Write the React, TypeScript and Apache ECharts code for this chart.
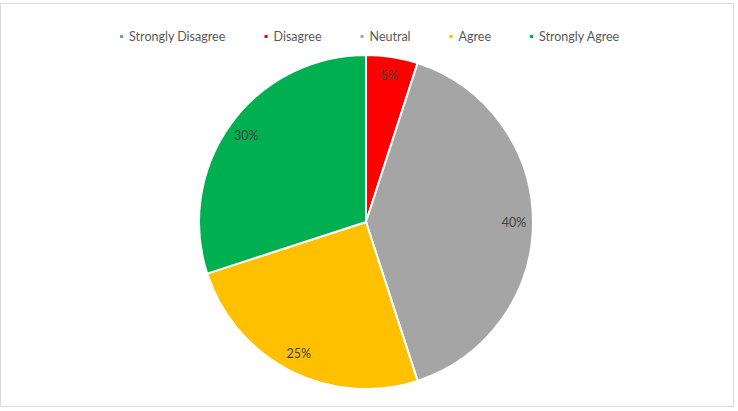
import React, { useEffect, useRef } from "react";
import * as echarts from "echarts";

const categories = ["Strongly Disagree", "Disagree", "Neutral", "Agree", "Strongly Agree"];
const shares = [0, 5, 40, 25, 30];
const colors = ["#5B9BD5", "#FF0000", "#A5A5A5", "#FFC000", "#00B050"];

const FONT = "Lato, 'Open Sans', sans-serif";

export default function App() {
  const ref = useRef<HTMLDivElement>(null);

  useEffect(() => {
    if (!ref.current) return;
    const chart = echarts.init(ref.current, undefined, { renderer: "svg" });

    const slices = categories.map((name, i) => ({
      name,
      value: shares[i],
      itemStyle: { color: colors[i] },
    }));

    chart.setOption({
      animation: false,
      backgroundColor: "#ffffff",
      graphic: [
        {
          type: "rect",
          shape: { x: 0.5, y: 3.5, width: 733, height: 403 },
          style: { fill: "none", stroke: "#d9d9d9", lineWidth: 1 },
          silent: true,
        },
      ],
      legend: {
        data: categories,
        top: 25,
        left: "center",
        icon: "rect",
        itemWidth: 5,
        itemHeight: 5,
        itemGap: 37,
        textStyle: { fontFamily: FONT, fontSize: 12.5, color: "#595959" },
      },
      series: [
        {
          type: "pie",
          center: [366, 222],
          radius: [0, 167],
          startAngle: 90,
          clockwise: true,
          data: slices,
          itemStyle: { borderColor: "#ffffff", borderWidth: 2 },
          label: { show: false },
          labelLine: { show: false },
          silent: true,
        },
        {
          // transparent ring that carries the percentage labels near the rim
          type: "pie",
          center: [366, 222],
          radius: [124, 166],
          startAngle: 90,
          clockwise: true,
          silent: true,
          data: categories.map((name, i) => ({
            name,
            value: shares[i],
            itemStyle: { color: "rgba(0,0,0,0)" },
            label: { show: shares[i] > 0 },
          })),
          label: {
            position: "inside",
            formatter: (p: any) => `${p.value}%`,
            fontFamily: FONT,
            fontSize: 12.5,
            color: "#404040",
          },
          labelLine: { show: false },
        },
      ],
    });

    return () => chart.dispose();
  }, []);

  return (
    <div
      ref={ref}
      style={{ position: "fixed", left: 0, top: 0, width: 738, height: 411 }}
    />
  );
}
